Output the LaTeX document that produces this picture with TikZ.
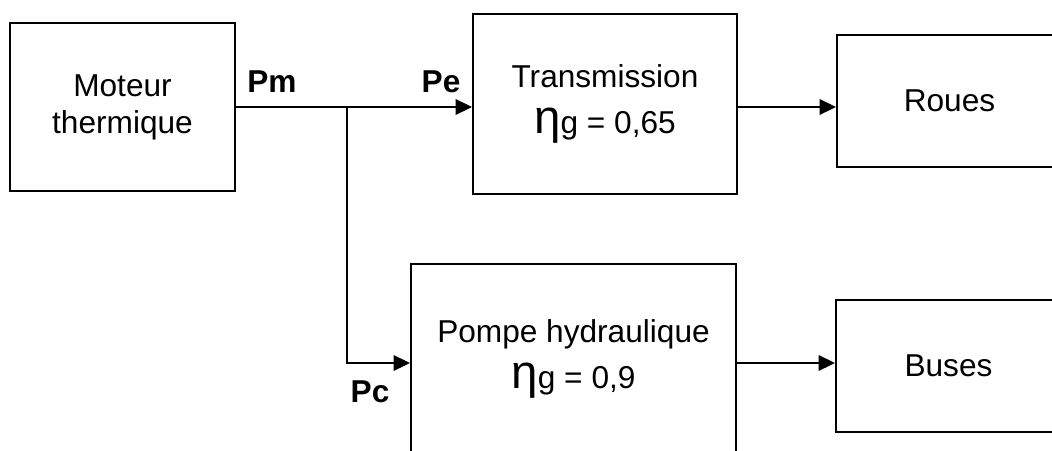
\documentclass[tikz,border=0pt]{standalone}
\usepackage{fontspec}
\setmainfont{Liberation Sans}
\usetikzlibrary{arrows.meta,positioning}

\tikzset{
  bloc/.style={draw,line width=1.1pt,align=center,inner sep=0pt,
    font=\fontsize{18}{21}\selectfont},
  flow/.style={line width=1.1pt,-{Triangle[length=0.33cm,width=0.31cm]}},
  puiss/.style={anchor=base,font=\fontsize{18}{21}\selectfont\bfseries}
}
\newcommand{\etag}{{\fontsize{27}{27}\selectfont η}g}

\begin{document}
\begin{tikzpicture}[x=0.02cm,y=-0.02cm]
\useasboundingbox (0,0) rectangle (1052,450);
\clip (0,0) rectangle (1052,450);
%
\coordinate (jn) at (347,107);
\coordinate (pc) at (347,363);
%
\node[bloc,minimum width=4.5cm,minimum height=3.36cm] (moteur) at (122.5,107) {Moteur\\thermique};
\node[bloc,minimum width=5.28cm,minimum height=3.6cm] (trans) at (605,104) {Transmission\\[5pt]\etag{} = 0,65};
\node[bloc,minimum width=4.5cm,minimum height=2.64cm] (roues) at (949.5,101) {Roues};
\node[bloc,minimum width=6.5cm,minimum height=3.8cm] (pompe) at (573.5,359) {Pompe hydraulique\\[5pt]\etag{} = 0,9};
\node[bloc,minimum width=4.5cm,minimum height=2.64cm] (buses) at (948.5,366) {Buses};
%
\draw[flow] (moteur.east) -- (trans.west |- moteur.east);
\draw[flow] (jn) -- (pc) -- (pompe.west |- pc);
\draw[flow] (trans.east |- jn) -- (roues.west |- jn);
\draw[flow] (pompe.east |- pc) -- (buses.west |- pc);
%
\node[puiss] (pm) at (272,92) {Pm};
\node[puiss] (pe) at (441,92) {Pe};
\node[puiss] (pcl) at (370,402) {Pc};
\end{tikzpicture}
\end{document}
